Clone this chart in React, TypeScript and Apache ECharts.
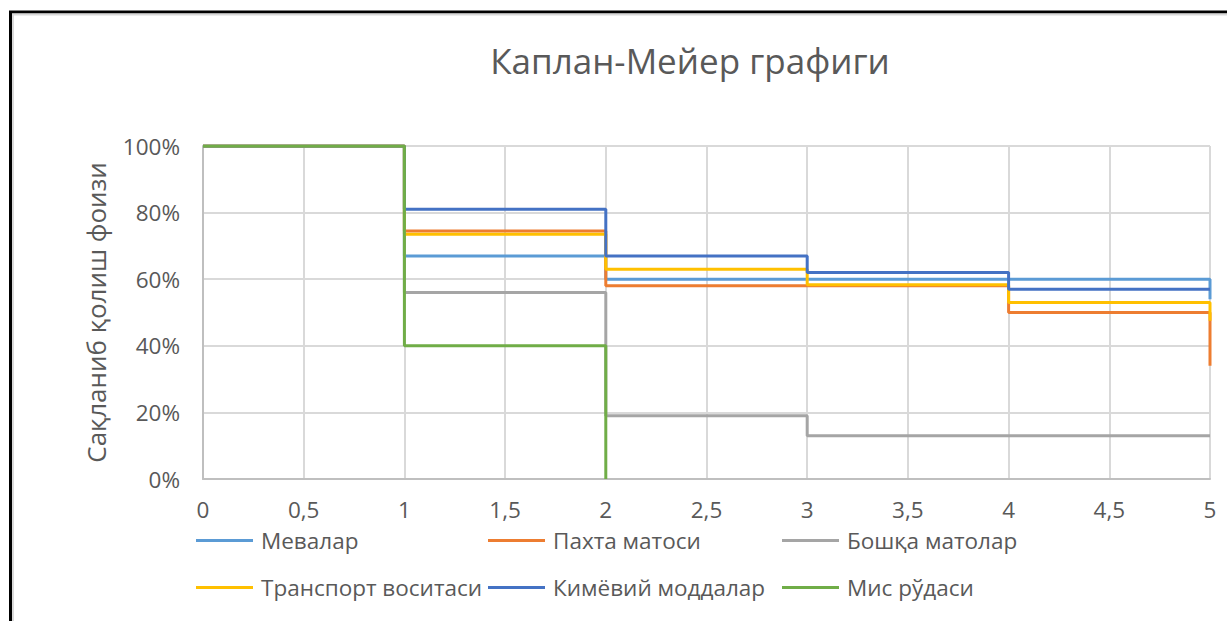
import React, { useEffect, useRef } from "react";
import * as echarts from "echarts";

const timePoints = [0, 1, 2, 3, 4, 5];
const seriesNames = [
  "Мевалар",
  "Пахта матоси",
  "Бошқа матолар",
  "Транспорт воситаси",
  "Кимёвий моддалар",
  "Мис рўдаси",
];
const mevalar = [100, 67, 60, 60, 60, 54];
const pakhta = [100, 74.5, 58, 58, 50, 34];
const boshqa = [100, 56, 19, 13, 13, 13];
const transport = [100, 73.5, 63, 58.3, 53, 47.5];
const kimyoviy = [100, 81, 67, 62, 57, 57];
const mis = [100, 40, 0];
const seriesValues = [mevalar, pakhta, boshqa, transport, kimyoviy, mis];
const colors = ["#5B9BD5", "#ED7D31", "#A5A5A5", "#FFC000", "#4472C4", "#70AD47"];
const yTicks = [0, 20, 40, 60, 80, 100];
const titleText = "Каплан-Мейер графиги";
const yAxisTitle = "Сақланиб қолиш фоизи";

const FONT = "'Open Sans', 'Noto Sans', sans-serif";

const legendPos = [
  [196, 529],
  [488, 529],
  [782, 529],
  [196, 576],
  [488, 576],
  [782, 576],
];

export default function App() {
  const ref = useRef<HTMLDivElement>(null);
  useEffect(() => {
    document.body.style.margin = "0";
    const chart = echarts.init(ref.current!, undefined, { renderer: "svg" });
    const option: any = {
      animation: false,
      backgroundColor: "#ffffff",
      textStyle: { fontFamily: FONT },
      title: {
        text: titleText,
        left: 685,
        top: 38,
        textAlign: "center",
        textStyle: { color: "#595959", fontSize: 35, fontWeight: "normal", fontFamily: FONT },
      },
      graphic: [
        {
          type: "rect",
          shape: { x: 10.5, y: 12, width: 1400, height: 800 },
          style: { fill: "none", stroke: "#000000", lineWidth: 3 },
          silent: true,
        },
        {
          type: "rect",
          shape: { x: 13, y: 14.5, width: 1400, height: 800 },
          style: { fill: "none", stroke: "#d9d9d9", lineWidth: 2 },
          silent: true,
        },
      ],
      legend: seriesNames.map((n, i) => ({
        data: [n],
        left: legendPos[i][0],
        top: legendPos[i][1],
        padding: 0,
        icon: "rect",
        itemWidth: 57,
        itemHeight: 3,
        textStyle: { color: "#595959", fontSize: 22.5, fontFamily: FONT, padding: [0, 0, 0, 3] },
      })),
      grid: { left: 203, right: 17, top: 146, bottom: 142, containLabel: false },
      xAxis: {
        type: "value",
        min: 0,
        max: 5,
        interval: 0.5,
        axisLine: { show: true, lineStyle: { color: "#bfbfbf", width: 2 } },
        axisTick: { show: false },
        splitLine: { show: true, lineStyle: { color: "#d9d9d9", width: 2 } },
        axisLabel: {
          color: "#595959",
          fontSize: 22.5,
          margin: 19,
          fontFamily: FONT,
          formatter: (v: number) => String(v).replace(".", ","),
        },
      },
      yAxis: {
        type: "value",
        min: yTicks[0],
        max: yTicks[yTicks.length - 1],
        interval: 20,
        name: yAxisTitle,
        nameLocation: "middle",
        nameRotate: 90,
        nameGap: 94,
        nameTextStyle: { color: "#595959", fontSize: 26, fontFamily: FONT },
        axisLine: { show: true, lineStyle: { color: "#bfbfbf", width: 2 } },
        axisTick: { show: false },
        splitLine: { show: true, lineStyle: { color: "#d9d9d9", width: 2 } },
        axisLabel: {
          color: "#595959",
          fontSize: 22.5,
          margin: 23,
          fontFamily: FONT,
          formatter: "{value}%",
        },
      },
      series: seriesNames.map((n, i) => ({
        name: n,
        type: "line",
        step: "end",
        showSymbol: false,
        symbol: "none",
        color: colors[i],
        lineStyle: { color: colors[i], width: 3 },
        data: seriesValues[i].map((v, j) => [timePoints[j], v]),
      })),
    };
    chart.setOption(option);
    return () => chart.dispose();
  }, []);
  return <div ref={ref} style={{ width: 1227, height: 621 }} />;
}
